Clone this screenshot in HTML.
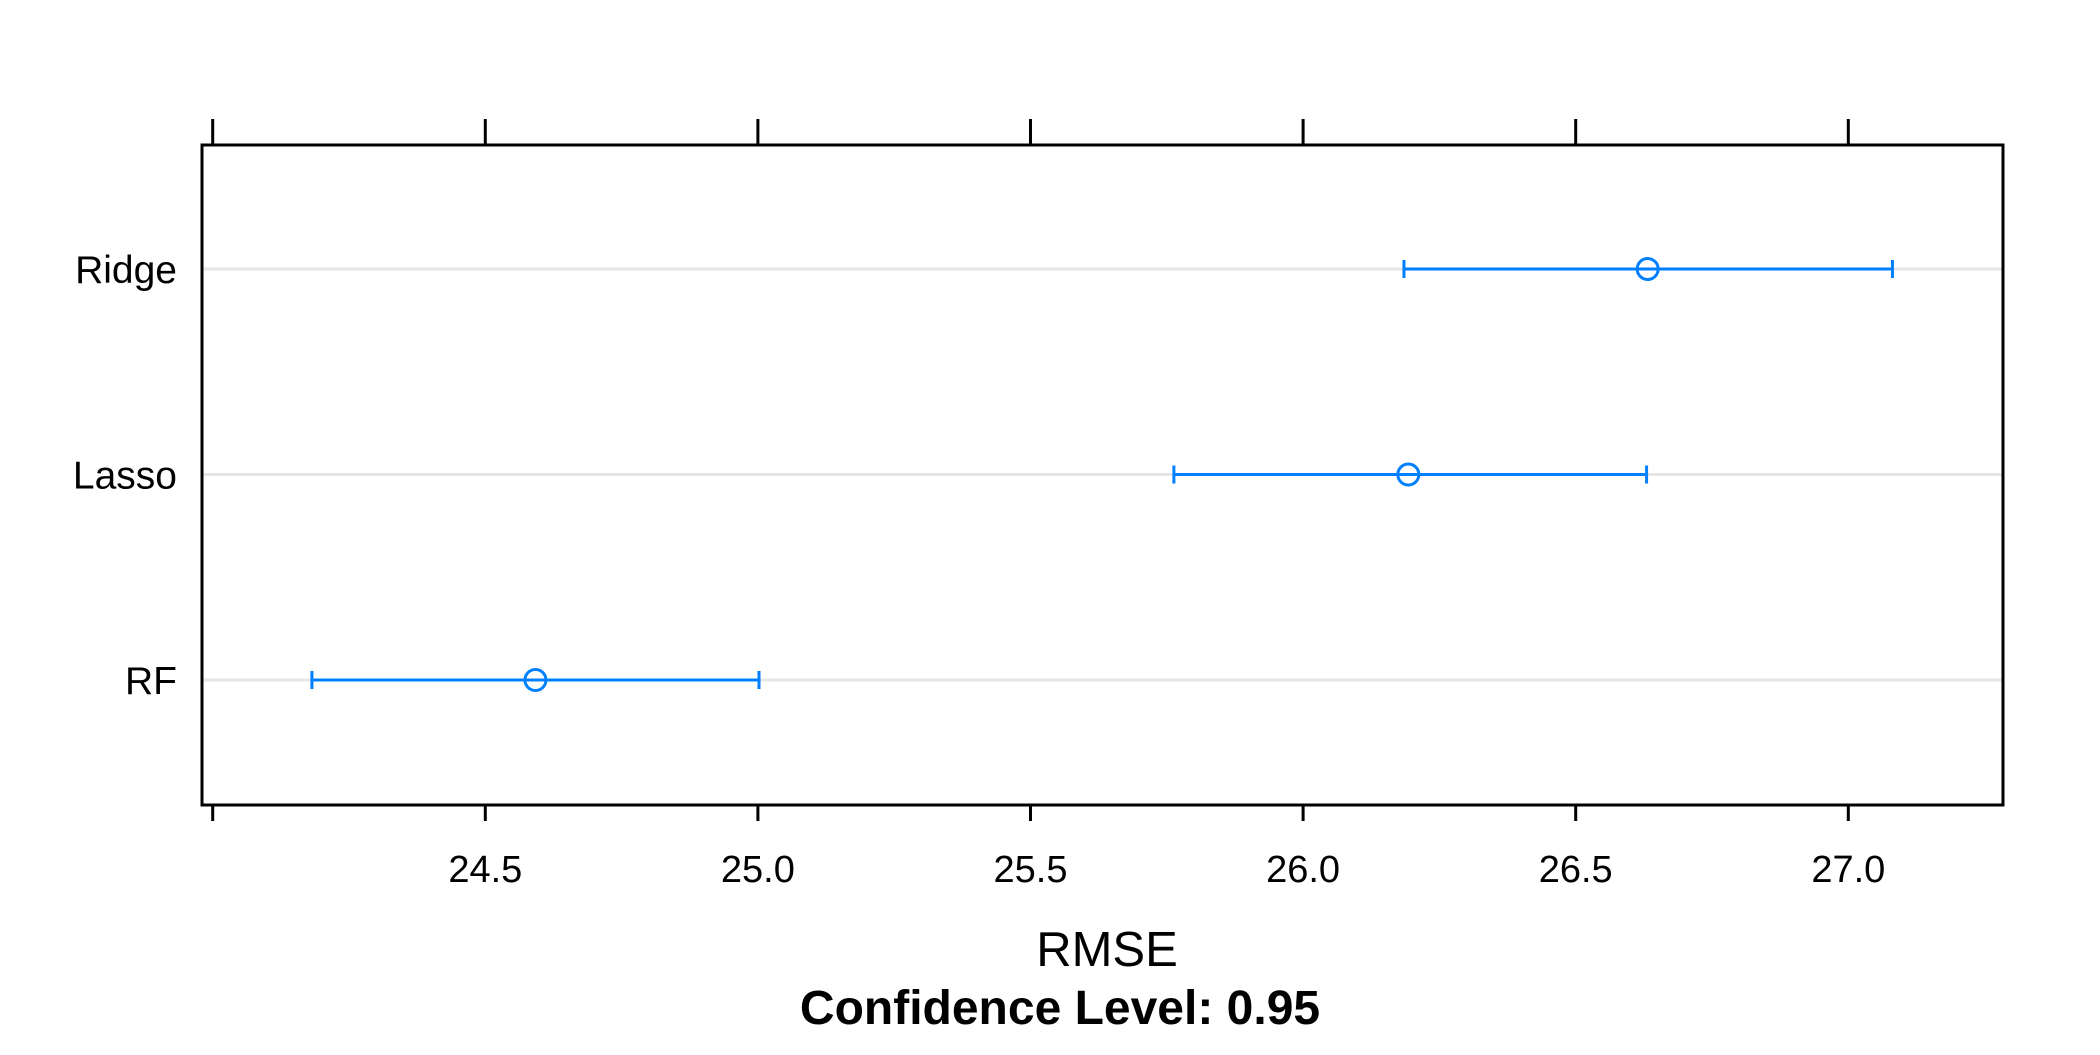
<!DOCTYPE html>
<html><head><meta charset="utf-8"><style>
body{margin:0;background:#fff}
svg text{font-family:"Liberation Sans",Arial,sans-serif;fill:#000}
</style></head><body>
<svg id="chart" width="2100" height="1050" xmlns="http://www.w3.org/2000/svg"></svg>
<script>
const models = ["RF","Lasso","Ridge"];
const estimates = [24.592, 26.193, 26.632];
const lowers = [24.182, 25.763, 26.185];
const uppers = [25.002, 26.630, 27.081];
const ticks = [24.0, 24.5, 25.0, 25.5, 26.0, 26.5, 27.0];
const tickLabels = ["", "24.5", "25.0", "25.5", "26.0", "26.5", "27.0"];

const L=202,R=2003,T=145,B=805;
const x=v=>212.7+(v-24)*545.2;
const y=i=>680-i*205.5;
const svg=document.getElementById('chart');
const NS="http://www.w3.org/2000/svg";
function mk(t,a,p){const e=document.createElementNS(NS,t);for(const k in a)e.setAttribute(k,a[k]);(p||svg).appendChild(e);return e;}

models.forEach((m,i)=>{
  const g=mk('line',{x1:L,x2:R,y1:y(i),y2:y(i),stroke:'#e6e6e6','stroke-width':3});
  
  
  const t=mk('text',{x:177,y:y(i)+14,'font-size':39,'text-anchor':'end'});
  t.textContent=m;
  
  
});
ticks.forEach((v,i)=>{
  const a=mk('line',{x1:x(v),x2:x(v),y1:T-26,y2:T,stroke:'#000','stroke-width':3});
  
  
  const b=mk('line',{x1:x(v),x2:x(v),y1:B,y2:B+16,stroke:'#000','stroke-width':3});
  
  
  const t=mk('text',{x:x(v),y:882,'font-size':38,'text-anchor':'middle'});
  t.textContent=tickLabels[i];
  
  
});
models.forEach((m,i)=>{
  const g=mk('g',{});
  
  
  const c='#0080ff';
  mk('line',{x1:x(lowers[i]),x2:x(uppers[i]),y1:y(i),y2:y(i),stroke:c,'stroke-width':3},g);
  mk('line',{x1:x(lowers[i]),x2:x(lowers[i]),y1:y(i)-9,y2:y(i)+9,stroke:c,'stroke-width':3},g);
  mk('line',{x1:x(uppers[i]),x2:x(uppers[i]),y1:y(i)-9,y2:y(i)+9,stroke:c,'stroke-width':3},g);
  mk('circle',{cx:x(estimates[i]),cy:y(i),r:10.5,fill:'none',stroke:c,'stroke-width':3},g);
});
const f=mk('rect',{x:L,y:T,width:R-L,height:B-T,fill:'none',stroke:'#000','stroke-width':3});


const xt=mk('text',{x:1107,y:966,'font-size':49,'text-anchor':'middle'});
xt.textContent='RMSE';


const st=mk('text',{x:1060,y:1024,'font-size':48,'font-weight':'bold','text-anchor':'middle'});
st.textContent='Confidence Level: 0.95';


</script>
</body></html>
